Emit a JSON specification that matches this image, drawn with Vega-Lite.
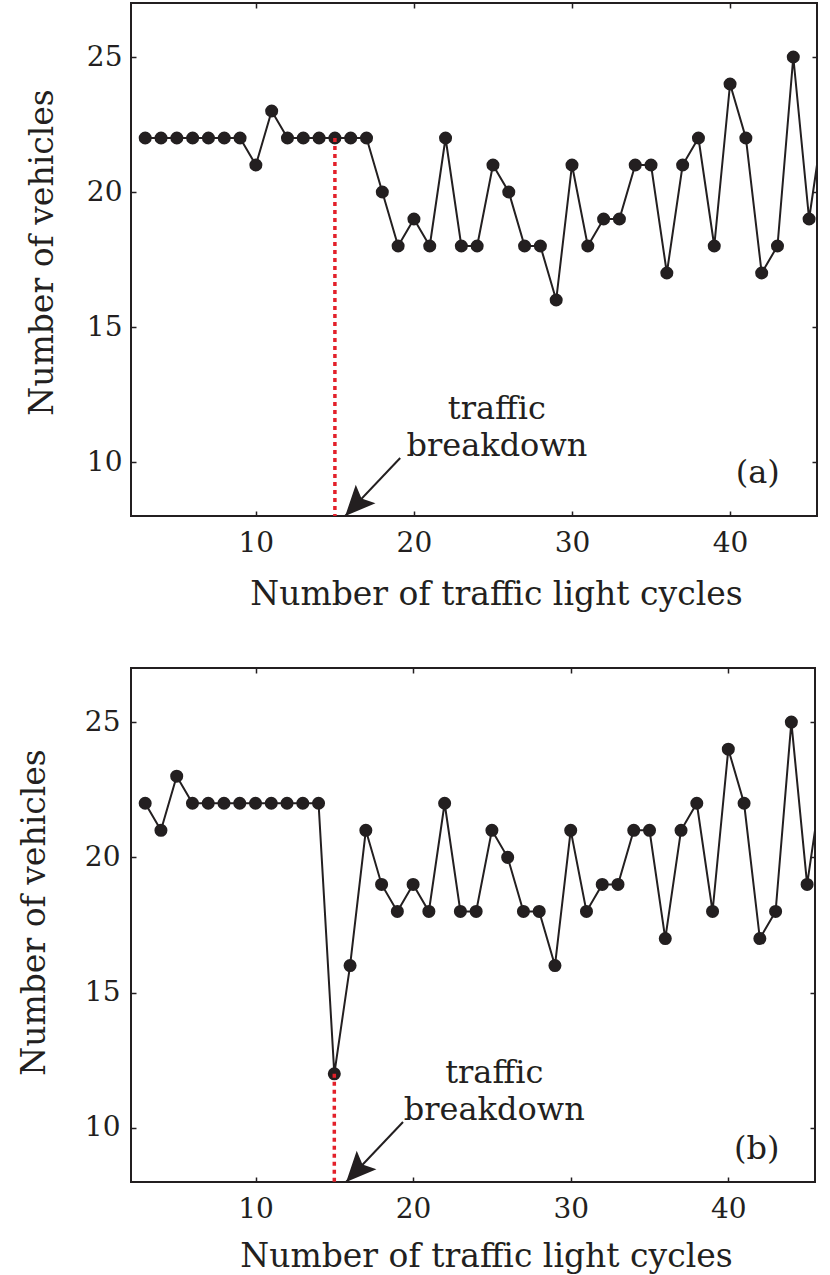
{
  "$schema": "https://vega.github.io/schema/vega-lite/v6.json",
  "background": "white",
  "padding": {"left": 16, "top": 1, "right": 0, "bottom": 0},
  "autosize": {"type": "pad"},
  "spacing": 54,
  "config": {
    "font": "DejaVu Serif",
    "view": {"stroke": "#231f20", "strokeWidth": 2},
    "axis": {
      "labelFont": "DejaVu Serif",
      "labelFontSize": 28,
      "labelColor": "#231f20",
      "titleFont": "DejaVu Serif",
      "titleFontSize": 33,
      "titleFontWeight": "normal",
      "titleColor": "#231f20",
      "tickColor": "#231f20",
      "tickWidth": 1.5,
      "tickSize": -5,
      "domain": false,
      "grid": false
    }
  },
  "datasets": {
    "a": [
      {"cycle": 3, "vehicles": 22}, {"cycle": 4, "vehicles": 22}, {"cycle": 5, "vehicles": 22},
      {"cycle": 6, "vehicles": 22}, {"cycle": 7, "vehicles": 22}, {"cycle": 8, "vehicles": 22},
      {"cycle": 9, "vehicles": 22}, {"cycle": 10, "vehicles": 21}, {"cycle": 11, "vehicles": 23},
      {"cycle": 12, "vehicles": 22}, {"cycle": 13, "vehicles": 22}, {"cycle": 14, "vehicles": 22},
      {"cycle": 15, "vehicles": 22}, {"cycle": 16, "vehicles": 22}, {"cycle": 17, "vehicles": 22},
      {"cycle": 18, "vehicles": 20}, {"cycle": 19, "vehicles": 18}, {"cycle": 20, "vehicles": 19},
      {"cycle": 21, "vehicles": 18}, {"cycle": 22, "vehicles": 22}, {"cycle": 23, "vehicles": 18},
      {"cycle": 24, "vehicles": 18}, {"cycle": 25, "vehicles": 21}, {"cycle": 26, "vehicles": 20},
      {"cycle": 27, "vehicles": 18}, {"cycle": 28, "vehicles": 18}, {"cycle": 29, "vehicles": 16},
      {"cycle": 30, "vehicles": 21}, {"cycle": 31, "vehicles": 18}, {"cycle": 32, "vehicles": 19},
      {"cycle": 33, "vehicles": 19}, {"cycle": 34, "vehicles": 21}, {"cycle": 35, "vehicles": 21},
      {"cycle": 36, "vehicles": 17}, {"cycle": 37, "vehicles": 21}, {"cycle": 38, "vehicles": 22},
      {"cycle": 39, "vehicles": 18}, {"cycle": 40, "vehicles": 24}, {"cycle": 41, "vehicles": 22},
      {"cycle": 42, "vehicles": 17}, {"cycle": 43, "vehicles": 18}, {"cycle": 44, "vehicles": 25},
      {"cycle": 45, "vehicles": 19}, {"cycle": 46, "vehicles": 23}
    ],
    "b": [
      {"cycle": 3, "vehicles": 22}, {"cycle": 4, "vehicles": 21}, {"cycle": 5, "vehicles": 23},
      {"cycle": 6, "vehicles": 22}, {"cycle": 7, "vehicles": 22}, {"cycle": 8, "vehicles": 22},
      {"cycle": 9, "vehicles": 22}, {"cycle": 10, "vehicles": 22}, {"cycle": 11, "vehicles": 22},
      {"cycle": 12, "vehicles": 22}, {"cycle": 13, "vehicles": 22}, {"cycle": 14, "vehicles": 22},
      {"cycle": 15, "vehicles": 12}, {"cycle": 16, "vehicles": 16}, {"cycle": 17, "vehicles": 21},
      {"cycle": 18, "vehicles": 19}, {"cycle": 19, "vehicles": 18}, {"cycle": 20, "vehicles": 19},
      {"cycle": 21, "vehicles": 18}, {"cycle": 22, "vehicles": 22}, {"cycle": 23, "vehicles": 18},
      {"cycle": 24, "vehicles": 18}, {"cycle": 25, "vehicles": 21}, {"cycle": 26, "vehicles": 20},
      {"cycle": 27, "vehicles": 18}, {"cycle": 28, "vehicles": 18}, {"cycle": 29, "vehicles": 16},
      {"cycle": 30, "vehicles": 21}, {"cycle": 31, "vehicles": 18}, {"cycle": 32, "vehicles": 19},
      {"cycle": 33, "vehicles": 19}, {"cycle": 34, "vehicles": 21}, {"cycle": 35, "vehicles": 21},
      {"cycle": 36, "vehicles": 17}, {"cycle": 37, "vehicles": 21}, {"cycle": 38, "vehicles": 22},
      {"cycle": 39, "vehicles": 18}, {"cycle": 40, "vehicles": 24}, {"cycle": 41, "vehicles": 22},
      {"cycle": 42, "vehicles": 17}, {"cycle": 43, "vehicles": 18}, {"cycle": 44, "vehicles": 25},
      {"cycle": 45, "vehicles": 19}, {"cycle": 46, "vehicles": 23}
    ],
    "markerA": [{"cycle": 15, "top": 22, "bottom": 8}],
    "markerB": [{"cycle": 15, "top": 12, "bottom": 8}],
    "arrowA": [{"x0": 19.13, "y0": 10.15, "x1": 15.65, "y1": 8}],
    "arrowB": [{"x0": 19.36, "y0": 10.22, "x1": 15.75, "y1": 8}],
    "textA": [
      {"x": 25.25, "y": 11.6, "label": "traffic\nbreakdown"},
      {"x": 41.75, "y": 9.23, "label": "(a)"}
    ],
    "textB": [
      {"x": 25.15, "y": 11.65, "label": "traffic\nbreakdown"},
      {"x": 41.8, "y": 8.86, "label": "(b)"}
    ]
  },
  "vconcat": [
    {
      "width": 686,
      "height": 513,
      "resolve": {"axis": {"x": "independent", "y": "independent"}},
      "layer": [
        {
          "data": {"name": "a"},
          "mark": {"type": "line", "clip": true, "color": "#231f20", "strokeWidth": 2},
          "encoding": {
            "x": {"field": "cycle", "type": "quantitative",
                  "scale": {"domain": [2.1, 45.5], "nice": false, "zero": false},
                  "axis": {"orient": "bottom", "values": [10, 20, 30, 40], "format": "d", "labelPadding": 18,
                           "title": "Number of traffic light cycles", "titleX": 365, "titleY": 88,
                           "titleBaseline": "alphabetic", "titleAlign": "center"}},
            "y": {"field": "vehicles", "type": "quantitative",
                  "scale": {"domain": [8, 27], "nice": false, "zero": false},
                  "axis": {"orient": "left", "values": [10, 15, 20, 25], "format": "d", "labelPadding": 14,
                           "title": "Number of vehicles", "titleX": -79, "titleY": 249, "titleAngle": -90,
                           "titleBaseline": "alphabetic", "titleAlign": "center"}}
          }
        },
        {
          "data": {"name": "a"},
          "mark": {"type": "point", "filled": true, "clip": true, "size": 170, "color": "#231f20", "opacity": 1},
          "encoding": {
            "x": {"field": "cycle", "type": "quantitative",
                  "axis": {"orient": "top", "values": [10, 20, 30, 40], "labels": false, "title": null}},
            "y": {"field": "vehicles", "type": "quantitative",
                  "axis": {"orient": "right", "values": [10, 15, 20, 25], "labels": false, "title": null}}
          }
        },
        {
          "data": {"name": "markerA"},
          "mark": {"type": "rule", "color": "#e3202a", "strokeWidth": 3.5, "strokeDash": [4, 4]},
          "encoding": {
            "x": {"field": "cycle", "type": "quantitative", "axis": null},
            "y": {"field": "top", "type": "quantitative", "axis": null},
            "y2": {"field": "bottom"}
          }
        },
        {
          "data": {"name": "arrowA"},
          "mark": {"type": "rule", "color": "#231f20", "strokeWidth": 2},
          "encoding": {
            "x": {"field": "x0", "type": "quantitative", "axis": null},
            "y": {"field": "y0", "type": "quantitative", "axis": null},
            "x2": {"field": "x1"},
            "y2": {"field": "y1"}
          }
        },
        {
          "data": {"name": "arrowA"},
          "mark": {"type": "point", "filled": true, "opacity": 1, "color": "#231f20",
                   "shape": "M0,0L0.45,1L0,0.8L-0.45,1Z", "size": 3600, "angle": 223},
          "encoding": {
            "x": {"field": "x1", "type": "quantitative", "axis": null},
            "y": {"field": "y1", "type": "quantitative", "axis": null}
          }
        },
        {
          "data": {"name": "textA"},
          "mark": {"type": "text", "font": "DejaVu Serif", "fontSize": 32, "color": "#231f20",
                   "align": "center", "baseline": "alphabetic", "lineBreak": "\n", "lineHeight": 37},
          "encoding": {
            "x": {"field": "x", "type": "quantitative", "axis": null},
            "y": {"field": "y", "type": "quantitative", "axis": null},
            "text": {"field": "label"}
          }
        }
      ]
    },
    {
      "width": 684,
      "height": 514,
      "resolve": {"axis": {"x": "independent", "y": "independent"}},
      "layer": [
        {
          "data": {"name": "b"},
          "mark": {"type": "line", "clip": true, "color": "#231f20", "strokeWidth": 2},
          "encoding": {
            "x": {"field": "cycle", "type": "quantitative",
                  "scale": {"domain": [2.1, 45.5], "nice": false, "zero": false},
                  "axis": {"orient": "bottom", "values": [10, 20, 30, 40], "format": "d", "labelPadding": 18,
                           "title": "Number of traffic light cycles", "titleX": 355, "titleY": 84,
                           "titleBaseline": "alphabetic", "titleAlign": "center"}},
            "y": {"field": "vehicles", "type": "quantitative",
                  "scale": {"domain": [8, 27], "nice": false, "zero": false},
                  "axis": {"orient": "left", "values": [10, 15, 20, 25], "format": "d", "labelPadding": 16,
                           "title": "Number of vehicles", "titleX": -87, "titleY": 244, "titleAngle": -90,
                           "titleBaseline": "alphabetic", "titleAlign": "center"}}
          }
        },
        {
          "data": {"name": "b"},
          "mark": {"type": "point", "filled": true, "clip": true, "size": 170, "color": "#231f20", "opacity": 1},
          "encoding": {
            "x": {"field": "cycle", "type": "quantitative",
                  "axis": {"orient": "top", "values": [10, 20, 30, 40], "labels": false, "title": null}},
            "y": {"field": "vehicles", "type": "quantitative",
                  "axis": {"orient": "right", "values": [10, 15, 20, 25], "labels": false, "title": null}}
          }
        },
        {
          "data": {"name": "markerB"},
          "mark": {"type": "rule", "color": "#e3202a", "strokeWidth": 3.5, "strokeDash": [4, 4]},
          "encoding": {
            "x": {"field": "cycle", "type": "quantitative", "axis": null},
            "y": {"field": "top", "type": "quantitative", "axis": null},
            "y2": {"field": "bottom"}
          }
        },
        {
          "data": {"name": "arrowB"},
          "mark": {"type": "rule", "color": "#231f20", "strokeWidth": 2},
          "encoding": {
            "x": {"field": "x0", "type": "quantitative", "axis": null},
            "y": {"field": "y0", "type": "quantitative", "axis": null},
            "x2": {"field": "x1"},
            "y2": {"field": "y1"}
          }
        },
        {
          "data": {"name": "arrowB"},
          "mark": {"type": "point", "filled": true, "opacity": 1, "color": "#231f20",
                   "shape": "M0,0L0.45,1L0,0.8L-0.45,1Z", "size": 3600, "angle": 223},
          "encoding": {
            "x": {"field": "x1", "type": "quantitative", "axis": null},
            "y": {"field": "y1", "type": "quantitative", "axis": null}
          }
        },
        {
          "data": {"name": "textB"},
          "mark": {"type": "text", "font": "DejaVu Serif", "fontSize": 32, "color": "#231f20",
                   "align": "center", "baseline": "alphabetic", "lineBreak": "\n", "lineHeight": 37},
          "encoding": {
            "x": {"field": "x", "type": "quantitative", "axis": null},
            "y": {"field": "y", "type": "quantitative", "axis": null},
            "text": {"field": "label"}
          }
        }
      ]
    }
  ]
}
